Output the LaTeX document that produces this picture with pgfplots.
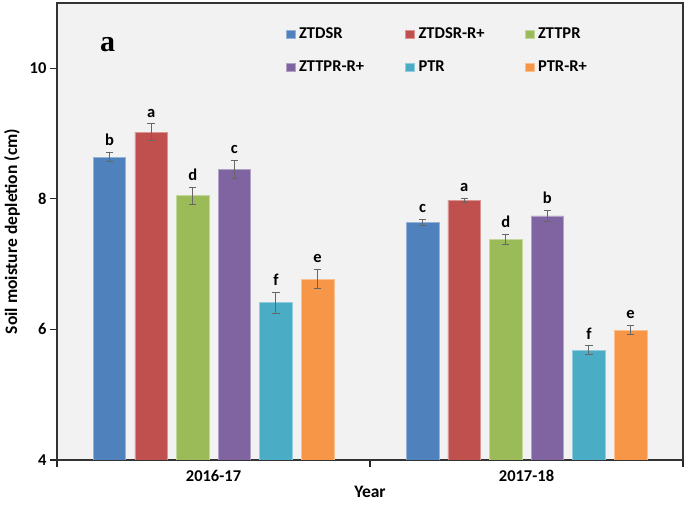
\documentclass[border=0pt]{standalone}
\usepackage{pgfplots}
\usepackage{pgfplotstable}
\pgfplotsset{compat=1.18}
\usepackage{fontspec}
\setmainfont{Carlito}
\newfontfamily\timesfont{Liberation Serif}
\definecolor{cA}{HTML}{4F81BD}
\definecolor{cB}{HTML}{C0504D}
\definecolor{cC}{HTML}{9BBB59}
\definecolor{cD}{HTML}{8064A2}
\definecolor{cE}{HTML}{4BACC6}
\definecolor{cF}{HTML}{F79646}
\definecolor{bgc}{HTML}{F2F2F2}

\pgfplotstableread{
x y e l
1 8.64 0.07 b
2 7.64 0.05 c
}\tA
\pgfplotstableread{
x y e l
1 9.02 0.13 a
2 7.98 0.03 a
}\tB
\pgfplotstableread{
x y e l
1 8.05 0.13 d
2 7.38 0.08 d
}\tC
\pgfplotstableread{
x y e l
1 8.45 0.14 c
2 7.74 0.08 b
}\tD
\pgfplotstableread{
x y e l
1 6.41 0.16 f
2 5.68 0.07 f
}\tE
\pgfplotstableread{
x y e l
1 6.77 0.15 e
2 5.99 0.07 e
}\tF

\newcommand{\legbox}[1]{\makebox[104pt][l]{#1}}
\pgfplotsset{
  myerr/.style={
    error bars/y dir=both, error bars/y explicit,
    error bars/error bar style={black!60, line width=1pt},
    error bars/error mark options={rotate=90, mark size=3.6pt, black!60, line width=1pt},
  },
}

\begin{document}
\begin{tikzpicture}
\useasboundingbox (-57pt,-45pt) rectangle (628pt,460pt);
\begin{axis}[
  at={(0,0)}, anchor=south west,
  scale only axis,
  width=626pt, height=457pt,
  xmin=0.5, xmax=2.5, ymin=4, ymax=11,
  axis background/.style={fill=bgc},
  axis line style={black!80, line width=1.1pt},
  ybar=9.1pt, bar width=32.5pt,
  ytick={4,6,8,10},
  xtick={0.5,1.5,2.5}, xticklabels={},
  extra x ticks={1,2},
  extra x tick labels={2016-17,2017-18},
  extra x tick style={major tick length=0pt, tick label style={yshift=-7pt}},
  xtick pos=bottom, ytick pos=left,
  tick align=outside, major tick length=7pt,
  tick style={black!85, line width=1.1pt},
  tick label style={font=\bfseries\fontsize{16.5}{16.5}\selectfont},
  /pgf/number format/assume math mode=true,
  xlabel={Year}, ylabel={Soil moisture depletion (cm)},
  label style={font=\bfseries\fontsize{17.5}{17.5}\selectfont},
  xlabel style={yshift=10pt},
  ylabel style={yshift=3pt},
  legend columns=3,
  legend style={draw=none, fill=none, at={(rel axis cs:0.36,0.955)}, anchor=north west,
    font=\bfseries\fontsize{16.5}{16.5}\selectfont, row sep=17pt,
    /tikz/every odd column/.append style={column sep=2pt}},
  legend cell align=left,
  legend image code/.code={\fill[#1] (0pt,-4pt) rectangle (9pt,4pt);},
  point meta=explicit symbolic,
  nodes near coords,
  visualization depends on={\thisrow{e} \as \myerr},
  nodes near coords style={font=\bfseries\fontsize{16.5}{16.5}\selectfont, anchor=south, text=black, yshift={\myerr*65.29pt+3pt}},
]
\addplot[fill=cA, draw=cA!60!white, line width=0.5pt, myerr] table[x=x, y=y, y error=e, meta=l] {\tA};
\addplot[fill=cB, draw=cB!60!white, line width=0.5pt, myerr] table[x=x, y=y, y error=e, meta=l] {\tB};
\addplot[fill=cC, draw=cC!60!white, line width=0.5pt, myerr] table[x=x, y=y, y error=e, meta=l] {\tC};
\addplot[fill=cD, draw=cD!60!white, line width=0.5pt, myerr] table[x=x, y=y, y error=e, meta=l] {\tD};
\addplot[fill=cE, draw=cE!60!white, line width=0.5pt, myerr] table[x=x, y=y, y error=e, meta=l] {\tE};
\addplot[fill=cF, draw=cF!60!white, line width=0.5pt, myerr] table[x=x, y=y, y error=e, meta=l] {\tF};
\legend{\legbox{ZTDSR},\legbox{ZTDSR-R+},\legbox{ZTTPR},\legbox{ZTTPR-R+},\legbox{PTR},\legbox{PTR-R+}}
\node[font=\timesfont\bfseries\fontsize{30}{30}\selectfont] at (rel axis cs:0.081,0.908) {a};
\end{axis}
\end{tikzpicture}
\end{document}
